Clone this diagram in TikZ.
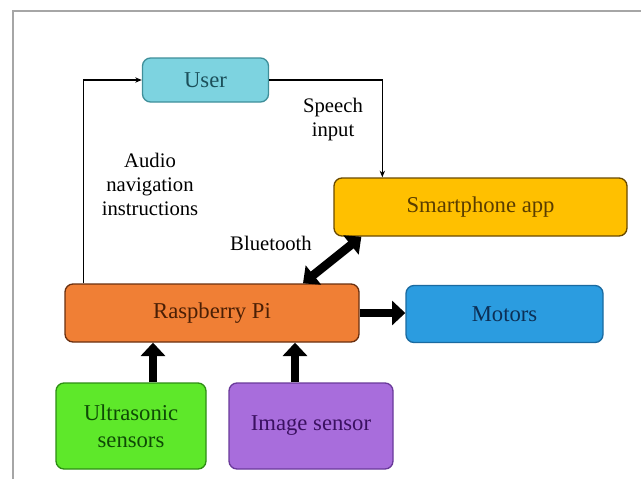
\documentclass[tikz,border=0pt]{standalone}
\usepackage{fontspec}
\setmainfont{Liberation Serif}
\usepackage{xcolor}
\usetikzlibrary{positioning,arrows.meta,calc}

\definecolor{userfill}{HTML}{7DD3E0}
\definecolor{userline}{HTML}{3F8F9A}
\definecolor{usertext}{HTML}{1B4F5A}
\definecolor{phonefill}{HTML}{FFC000}
\definecolor{phoneline}{HTML}{6A4A00}
\definecolor{phonetext}{HTML}{5A3D00}
\definecolor{rpifill}{HTML}{F07F35}
\definecolor{rpiline}{HTML}{6A3010}
\definecolor{rpitext}{HTML}{4A1F05}
\definecolor{motorfill}{HTML}{2B9CE0}
\definecolor{motorline}{HTML}{1A6AA0}
\definecolor{motortext}{HTML}{0C2F55}
\definecolor{ultrafill}{HTML}{5EE82A}
\definecolor{ultraline}{HTML}{2E8E14}
\definecolor{ultratext}{HTML}{0E4A05}
\definecolor{imgfill}{HTML}{A86DDC}
\definecolor{imgline}{HTML}{6A3A9A}
\definecolor{imgtext}{HTML}{3A1060}

\begin{document}
\begin{tikzpicture}[x=0.75pt,y=-0.75pt,
    block/.style={draw,line width=1pt,rounded corners=6pt,align=center,
      font=\rmfamily\fontsize{17}{20}\selectfont,inner sep=0pt},
    lbl/.style={align=center,font=\rmfamily\fontsize{15.5}{18}\selectfont},
    thin/.style={-{Stealth[length=5pt,width=4pt]},line width=0.9pt},
    bigarrow/.style={-{Triangle[length=10pt,width=18pt]},line width=6.5pt},
    bigboth/.style={{Triangle[length=10pt,width=18pt]}-{Triangle[length=10pt,width=18pt]},line width=6.5pt}]

          \useasboundingbox (0,0) rectangle (641,479);
          % frame of the figure
          \draw[gray!70,line width=1pt] (13,479) -- (13,11) -- (641,11);

          % Define the nodes
          \node[block,fill=userfill,draw=userline,text=usertext,
                minimum width=94.5pt,minimum height=33pt] (user) at (205.5,80) {User};
          \node[block,fill=phonefill,draw=phoneline,text=phonetext,
                minimum width=219.75pt,minimum height=43.5pt] (phone) at (480.5,207) {Smartphone app};
          \node[block,fill=rpifill,draw=rpiline,text=rpitext,
                minimum width=220.5pt,minimum height=43.5pt] (rpi) at (212,313) {Raspberry Pi};
          \node[block,fill=motorfill,draw=motorline,text=motortext,
                minimum width=147.75pt,minimum height=42.75pt] (motors) at (504.5,314) {Motors};
          \node[block,fill=ultrafill,draw=ultraline,text=ultratext,
                minimum width=112.5pt,minimum height=64.5pt] (ultra) at (131,426) {Ultrasonic\\sensors};
          \node[block,fill=imgfill,draw=imgline,text=imgtext,
                minimum width=123pt,minimum height=64.5pt] (img) at (311,426) {Image sensor};

          % Define the labels
          \node[lbl] (speech) at (333,120) {Speech\\input};
          \node[lbl] (audio) at (150,184) {Audio\\navigation\\instructions};
          \node[lbl] (bt) at (271,243) {Bluetooth};

          % helper points for the arrows
          \coordinate (audiofoot) at ($(rpi.north west)+(19,0)$);
          \coordinate (speechfoot) at ($(phone.north west)+(49,0)$);
          \coordinate (btlow) at ($(rpi.north)+(91,0)$);
          \coordinate (bthigh) at ($(phone.south west)+(28,0)$);
          \coordinate (ultrafoot) at ($(ultra.north)+(22,0)$);
          \coordinate (imgfoot) at ($(img.north)+(-16,0)$);

          % Draw the arrows
          \draw[thin] (audiofoot) |- (user.west);
          \draw[thin] (user.east) -| (speechfoot);
          \draw[bigboth] (btlow) -- (bthigh);
          \draw[bigarrow] (rpi.east) -- (rpi.east -| motors.west);
          \draw[bigarrow] (ultrafoot) -- (ultrafoot |- rpi.south);
          \draw[bigarrow] (imgfoot) -- (imgfoot |- rpi.south);

\end{tikzpicture}
\end{document}
